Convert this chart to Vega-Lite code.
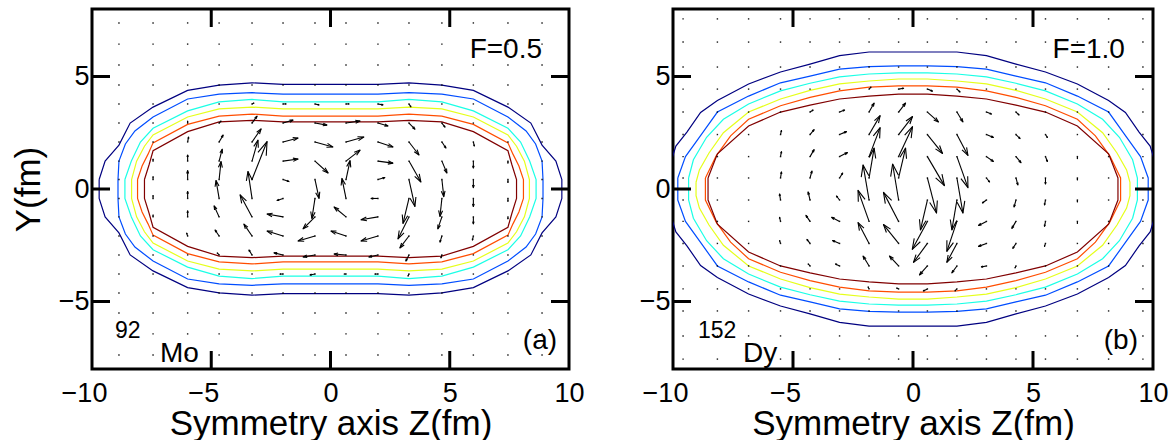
{
"$schema":"https://vega.github.io/schema/vega-lite/v6.json",
"padding":{"left":9,"top":6,"right":5,"bottom":5},
"spacing":51,
"config":{"font":"Liberation Sans","view":{"stroke":"black","strokeWidth":3},
"axis":{"grid":false,"domain":false,"ticks":false,"labelFontSize":27,"labelColor":"black","labelFlush":false,"labelOverlap":false,"titleFontSize":35,"titleFontWeight":"normal","titleColor":"black"}},
"datasets":{
"ticksA":[
{"z":-5,"y":-8,"z2":-5,"y2":-7.2},{"z":0,"y":-8,"z2":0,"y2":-7.2},{"z":5,"y":-8,"z2":5,"y2":-7.2},
{"z":-5,"y":8,"z2":-5,"y2":7.2},{"z":0,"y":8,"z2":0,"y2":7.2},{"z":5,"y":8,"z2":5,"y2":7.2},
{"z":-10,"y":-5,"z2":-9.245,"y2":-5},{"z":-10,"y":0,"z2":-9.245,"y2":0},{"z":-10,"y":5,"z2":-9.245,"y2":5},
{"z":10,"y":-5,"z2":9.245,"y2":-5},{"z":10,"y":0,"z2":9.245,"y2":0},{"z":10,"y":5,"z2":9.245,"y2":5}
],
"ticksB":[
{"z":-5,"y":-8,"z2":-5,"y2":-7.2},{"z":0,"y":-8,"z2":0,"y2":-7.2},{"z":5,"y":-8,"z2":5,"y2":-7.2},
{"z":-5,"y":8,"z2":-5,"y2":7.2},{"z":0,"y":8,"z2":0,"y2":7.2},{"z":5,"y":8,"z2":5,"y2":7.2},
{"z":-10,"y":-5,"z2":-9.25,"y2":-5},{"z":-10,"y":0,"z2":-9.25,"y2":0},{"z":-10,"y":5,"z2":-9.25,"y2":5},
{"z":10,"y":-5,"z2":9.25,"y2":-5},{"z":10,"y":0,"z2":9.25,"y2":0},{"z":10,"y":5,"z2":9.25,"y2":5}
],
"contA":[
{"c":1,"z":-9.7,"y":0.42},{"c":1,"z":-9.45,"y":1.24},{"c":1,"z":-8.87,"y":1.95},{"c":1,"z":-8.4,"y":2.93},{"c":1,"z":-7.44,"y":3.64},{"c":1,"z":-5.99,"y":4.38},{"c":1,"z":-4.67,"y":4.62},{"c":1,"z":-3.29,"y":4.72},{"c":1,"z":-1.99,"y":4.65},{"c":1,"z":-0.65,"y":4.65},{"c":1,"z":0.65,"y":4.65},{"c":1,"z":1.99,"y":4.65},{"c":1,"z":3.29,"y":4.72},{"c":1,"z":4.67,"y":4.62},{"c":1,"z":5.99,"y":4.38},{"c":1,"z":7.44,"y":3.64},{"c":1,"z":8.4,"y":2.93},{"c":1,"z":8.87,"y":1.95},{"c":1,"z":9.45,"y":1.24},{"c":1,"z":9.7,"y":0.42},{"c":1,"z":9.7,"y":-0.42},{"c":1,"z":9.45,"y":-1.24},{"c":1,"z":8.87,"y":-1.95},{"c":1,"z":8.4,"y":-2.93},{"c":1,"z":7.44,"y":-3.64},{"c":1,"z":5.99,"y":-4.38},{"c":1,"z":4.67,"y":-4.62},{"c":1,"z":3.29,"y":-4.72},{"c":1,"z":1.99,"y":-4.65},{"c":1,"z":0.65,"y":-4.65},{"c":1,"z":-0.65,"y":-4.65},{"c":1,"z":-1.99,"y":-4.65},{"c":1,"z":-3.29,"y":-4.72},{"c":1,"z":-4.67,"y":-4.62},{"c":1,"z":-5.99,"y":-4.38},{"c":1,"z":-7.44,"y":-3.64},{"c":1,"z":-8.4,"y":-2.93},{"c":1,"z":-8.87,"y":-1.95},{"c":1,"z":-9.45,"y":-1.24},{"c":1,"z":-9.7,"y":-0.42},{"c":1,"z":-9.7,"y":0.42},
{"c":2,"z":-8.91,"y":0.42},{"c":2,"z":-8.87,"y":1.24},{"c":2,"z":-8.6,"y":2.0},{"c":2,"z":-8.2,"y":2.58},{"c":2,"z":-7.44,"y":3.2},{"c":2,"z":-5.99,"y":4.0},{"c":2,"z":-4.67,"y":4.22},{"c":2,"z":-3.29,"y":4.28},{"c":2,"z":-1.99,"y":4.22},{"c":2,"z":-0.65,"y":4.22},{"c":2,"z":0.65,"y":4.22},{"c":2,"z":1.99,"y":4.22},{"c":2,"z":3.29,"y":4.28},{"c":2,"z":4.67,"y":4.22},{"c":2,"z":5.99,"y":4.0},{"c":2,"z":7.44,"y":3.2},{"c":2,"z":8.2,"y":2.58},{"c":2,"z":8.6,"y":2.0},{"c":2,"z":8.87,"y":1.24},{"c":2,"z":8.91,"y":0.42},{"c":2,"z":8.91,"y":-0.42},{"c":2,"z":8.87,"y":-1.24},{"c":2,"z":8.6,"y":-2.0},{"c":2,"z":8.2,"y":-2.58},{"c":2,"z":7.44,"y":-3.2},{"c":2,"z":5.99,"y":-4.0},{"c":2,"z":4.67,"y":-4.22},{"c":2,"z":3.29,"y":-4.28},{"c":2,"z":1.99,"y":-4.22},{"c":2,"z":0.65,"y":-4.22},{"c":2,"z":-0.65,"y":-4.22},{"c":2,"z":-1.99,"y":-4.22},{"c":2,"z":-3.29,"y":-4.28},{"c":2,"z":-4.67,"y":-4.22},{"c":2,"z":-5.99,"y":-4.0},{"c":2,"z":-7.44,"y":-3.2},{"c":2,"z":-8.2,"y":-2.58},{"c":2,"z":-8.6,"y":-2.0},{"c":2,"z":-8.87,"y":-1.24},{"c":2,"z":-8.91,"y":-0.42},{"c":2,"z":-8.91,"y":0.42},
{"c":3,"z":-8.62,"y":0.42},{"c":3,"z":-8.35,"y":1.24},{"c":3,"z":-7.97,"y":2.09},{"c":3,"z":-7.44,"y":2.7},{"c":3,"z":-5.99,"y":3.47},{"c":3,"z":-4.67,"y":3.87},{"c":3,"z":-3.29,"y":3.98},{"c":3,"z":-1.99,"y":3.87},{"c":3,"z":-0.65,"y":3.87},{"c":3,"z":0.65,"y":3.87},{"c":3,"z":1.99,"y":3.87},{"c":3,"z":3.29,"y":3.98},{"c":3,"z":4.67,"y":3.87},{"c":3,"z":5.99,"y":3.47},{"c":3,"z":7.44,"y":2.7},{"c":3,"z":7.97,"y":2.09},{"c":3,"z":8.35,"y":1.24},{"c":3,"z":8.62,"y":0.42},{"c":3,"z":8.62,"y":-0.42},{"c":3,"z":8.35,"y":-1.24},{"c":3,"z":7.97,"y":-2.09},{"c":3,"z":7.44,"y":-2.7},{"c":3,"z":5.99,"y":-3.47},{"c":3,"z":4.67,"y":-3.87},{"c":3,"z":3.29,"y":-3.98},{"c":3,"z":1.99,"y":-3.87},{"c":3,"z":0.65,"y":-3.87},{"c":3,"z":-0.65,"y":-3.87},{"c":3,"z":-1.99,"y":-3.87},{"c":3,"z":-3.29,"y":-3.98},{"c":3,"z":-4.67,"y":-3.87},{"c":3,"z":-5.99,"y":-3.47},{"c":3,"z":-7.44,"y":-2.7},{"c":3,"z":-7.97,"y":-2.09},{"c":3,"z":-8.35,"y":-1.24},{"c":3,"z":-8.62,"y":-0.42},{"c":3,"z":-8.62,"y":0.42},
{"c":4,"z":-8.34,"y":0.42},{"c":4,"z":-8.13,"y":1.24},{"c":4,"z":-7.8,"y":1.9},{"c":4,"z":-7.44,"y":2.4},{"c":4,"z":-5.99,"y":3.2},{"c":4,"z":-4.67,"y":3.56},{"c":4,"z":-3.29,"y":3.64},{"c":4,"z":-1.99,"y":3.56},{"c":4,"z":-0.65,"y":3.56},{"c":4,"z":0.65,"y":3.56},{"c":4,"z":1.99,"y":3.56},{"c":4,"z":3.29,"y":3.64},{"c":4,"z":4.67,"y":3.56},{"c":4,"z":5.99,"y":3.2},{"c":4,"z":7.44,"y":2.4},{"c":4,"z":7.8,"y":1.9},{"c":4,"z":8.13,"y":1.24},{"c":4,"z":8.34,"y":0.42},{"c":4,"z":8.34,"y":-0.42},{"c":4,"z":8.13,"y":-1.24},{"c":4,"z":7.8,"y":-1.9},{"c":4,"z":7.44,"y":-2.4},{"c":4,"z":5.99,"y":-3.2},{"c":4,"z":4.67,"y":-3.56},{"c":4,"z":3.29,"y":-3.64},{"c":4,"z":1.99,"y":-3.56},{"c":4,"z":0.65,"y":-3.56},{"c":4,"z":-0.65,"y":-3.56},{"c":4,"z":-1.99,"y":-3.56},{"c":4,"z":-3.29,"y":-3.64},{"c":4,"z":-4.67,"y":-3.56},{"c":4,"z":-5.99,"y":-3.2},{"c":4,"z":-7.44,"y":-2.4},{"c":4,"z":-7.8,"y":-1.9},{"c":4,"z":-8.13,"y":-1.24},{"c":4,"z":-8.34,"y":-0.42},{"c":4,"z":-8.34,"y":0.42},
{"c":5,"z":-8.09,"y":0.42},{"c":5,"z":-7.9,"y":1.02},{"c":5,"z":-7.65,"y":1.55},{"c":5,"z":-7.44,"y":2.05},{"c":5,"z":-5.99,"y":2.87},{"c":5,"z":-4.67,"y":3.24},{"c":5,"z":-3.29,"y":3.33},{"c":5,"z":-1.99,"y":3.24},{"c":5,"z":-0.65,"y":3.24},{"c":5,"z":0.65,"y":3.24},{"c":5,"z":1.99,"y":3.24},{"c":5,"z":3.29,"y":3.33},{"c":5,"z":4.67,"y":3.24},{"c":5,"z":5.99,"y":2.87},{"c":5,"z":7.44,"y":2.05},{"c":5,"z":7.65,"y":1.55},{"c":5,"z":7.9,"y":1.02},{"c":5,"z":8.09,"y":0.42},{"c":5,"z":8.09,"y":-0.42},{"c":5,"z":7.9,"y":-1.02},{"c":5,"z":7.65,"y":-1.55},{"c":5,"z":7.44,"y":-2.05},{"c":5,"z":5.99,"y":-2.87},{"c":5,"z":4.67,"y":-3.24},{"c":5,"z":3.29,"y":-3.33},{"c":5,"z":1.99,"y":-3.24},{"c":5,"z":0.65,"y":-3.24},{"c":5,"z":-0.65,"y":-3.24},{"c":5,"z":-1.99,"y":-3.24},{"c":5,"z":-3.29,"y":-3.33},{"c":5,"z":-4.67,"y":-3.24},{"c":5,"z":-5.99,"y":-2.87},{"c":5,"z":-7.44,"y":-2.05},{"c":5,"z":-7.65,"y":-1.55},{"c":5,"z":-7.9,"y":-1.02},{"c":5,"z":-8.09,"y":-0.42},{"c":5,"z":-8.09,"y":0.42},
{"c":6,"z":-7.8,"y":0.42},{"c":6,"z":-7.6,"y":1.1},{"c":6,"z":-7.44,"y":1.7},{"c":6,"z":-5.99,"y":2.55},{"c":6,"z":-4.67,"y":2.98},{"c":6,"z":-3.29,"y":3.05},{"c":6,"z":-1.99,"y":2.98},{"c":6,"z":-0.65,"y":2.98},{"c":6,"z":0.65,"y":2.98},{"c":6,"z":1.99,"y":2.98},{"c":6,"z":3.29,"y":3.05},{"c":6,"z":4.67,"y":2.98},{"c":6,"z":5.99,"y":2.55},{"c":6,"z":7.44,"y":1.7},{"c":6,"z":7.6,"y":1.1},{"c":6,"z":7.8,"y":0.42},{"c":6,"z":7.8,"y":-0.42},{"c":6,"z":7.6,"y":-1.1},{"c":6,"z":7.44,"y":-1.7},{"c":6,"z":5.99,"y":-2.55},{"c":6,"z":4.67,"y":-2.98},{"c":6,"z":3.29,"y":-3.05},{"c":6,"z":1.99,"y":-2.98},{"c":6,"z":0.65,"y":-2.98},{"c":6,"z":-0.65,"y":-2.98},{"c":6,"z":-1.99,"y":-2.98},{"c":6,"z":-3.29,"y":-3.05},{"c":6,"z":-4.67,"y":-2.98},{"c":6,"z":-5.99,"y":-2.55},{"c":6,"z":-7.44,"y":-1.7},{"c":6,"z":-7.6,"y":-1.1},{"c":6,"z":-7.8,"y":-0.42},{"c":6,"z":-7.8,"y":0.42}
],
"contB":[
{"c":1,"z":-10.3,"y":0.49},{"c":1,"z":-9.88,"y":1.91},{"c":1,"z":-9.42,"y":2.53},{"c":1,"z":-8.85,"y":3.4},{"c":1,"z":-8.15,"y":3.93},{"c":1,"z":-6.85,"y":4.67},{"c":1,"z":-5.52,"y":5.2},{"c":1,"z":-4.29,"y":5.55},{"c":1,"z":-3.06,"y":5.93},{"c":1,"z":-1.83,"y":6.09},{"c":1,"z":-0.6,"y":6.09},{"c":1,"z":0.6,"y":6.09},{"c":1,"z":1.83,"y":6.09},{"c":1,"z":3.06,"y":5.93},{"c":1,"z":4.29,"y":5.55},{"c":1,"z":5.52,"y":5.2},{"c":1,"z":6.85,"y":4.67},{"c":1,"z":8.15,"y":3.93},{"c":1,"z":8.85,"y":3.4},{"c":1,"z":9.42,"y":2.53},{"c":1,"z":9.88,"y":1.91},{"c":1,"z":10.3,"y":0.49},{"c":1,"z":10.3,"y":-0.49},{"c":1,"z":9.88,"y":-1.91},{"c":1,"z":9.42,"y":-2.53},{"c":1,"z":8.85,"y":-3.4},{"c":1,"z":8.15,"y":-3.93},{"c":1,"z":6.85,"y":-4.67},{"c":1,"z":5.52,"y":-5.2},{"c":1,"z":4.29,"y":-5.55},{"c":1,"z":3.06,"y":-5.93},{"c":1,"z":1.83,"y":-6.09},{"c":1,"z":0.6,"y":-6.09},{"c":1,"z":-0.6,"y":-6.09},{"c":1,"z":-1.83,"y":-6.09},{"c":1,"z":-3.06,"y":-5.93},{"c":1,"z":-4.29,"y":-5.55},{"c":1,"z":-5.52,"y":-5.2},{"c":1,"z":-6.85,"y":-4.67},{"c":1,"z":-8.15,"y":-3.93},{"c":1,"z":-8.85,"y":-3.4},{"c":1,"z":-9.42,"y":-2.53},{"c":1,"z":-9.88,"y":-1.91},{"c":1,"z":-10.3,"y":-0.49},{"c":1,"z":-10.3,"y":0.49},
{"c":2,"z":-9.8,"y":0.49},{"c":2,"z":-9.48,"y":1.44},{"c":2,"z":-8.8,"y":2.45},{"c":2,"z":-8.15,"y":3.42},{"c":2,"z":-6.85,"y":4.13},{"c":2,"z":-5.52,"y":4.72},{"c":2,"z":-4.29,"y":5.02},{"c":2,"z":-3.06,"y":5.33},{"c":2,"z":-1.83,"y":5.44},{"c":2,"z":-0.6,"y":5.47},{"c":2,"z":0.6,"y":5.47},{"c":2,"z":1.83,"y":5.44},{"c":2,"z":3.06,"y":5.33},{"c":2,"z":4.29,"y":5.02},{"c":2,"z":5.52,"y":4.72},{"c":2,"z":6.85,"y":4.13},{"c":2,"z":8.15,"y":3.42},{"c":2,"z":8.8,"y":2.45},{"c":2,"z":9.48,"y":1.44},{"c":2,"z":9.8,"y":0.49},{"c":2,"z":9.8,"y":-0.49},{"c":2,"z":9.48,"y":-1.44},{"c":2,"z":8.8,"y":-2.45},{"c":2,"z":8.15,"y":-3.42},{"c":2,"z":6.85,"y":-4.13},{"c":2,"z":5.52,"y":-4.72},{"c":2,"z":4.29,"y":-5.02},{"c":2,"z":3.06,"y":-5.33},{"c":2,"z":1.83,"y":-5.44},{"c":2,"z":0.6,"y":-5.47},{"c":2,"z":-0.6,"y":-5.47},{"c":2,"z":-1.83,"y":-5.44},{"c":2,"z":-3.06,"y":-5.33},{"c":2,"z":-4.29,"y":-5.02},{"c":2,"z":-5.52,"y":-4.72},{"c":2,"z":-6.85,"y":-4.13},{"c":2,"z":-8.15,"y":-3.42},{"c":2,"z":-8.8,"y":-2.45},{"c":2,"z":-9.48,"y":-1.44},{"c":2,"z":-9.8,"y":-0.49},{"c":2,"z":-9.8,"y":0.49},
{"c":3,"z":-9.35,"y":0.49},{"c":3,"z":-9.15,"y":1.3},{"c":3,"z":-8.6,"y":2.3},{"c":3,"z":-7.9,"y":3.1},{"c":3,"z":-6.85,"y":3.78},{"c":3,"z":-5.52,"y":4.36},{"c":3,"z":-4.29,"y":4.7},{"c":3,"z":-3.06,"y":4.98},{"c":3,"z":-1.83,"y":5.11},{"c":3,"z":-0.6,"y":5.16},{"c":3,"z":0.6,"y":5.16},{"c":3,"z":1.83,"y":5.11},{"c":3,"z":3.06,"y":4.98},{"c":3,"z":4.29,"y":4.7},{"c":3,"z":5.52,"y":4.36},{"c":3,"z":6.85,"y":3.78},{"c":3,"z":7.9,"y":3.1},{"c":3,"z":8.6,"y":2.3},{"c":3,"z":9.15,"y":1.3},{"c":3,"z":9.35,"y":0.49},{"c":3,"z":9.35,"y":-0.49},{"c":3,"z":9.15,"y":-1.3},{"c":3,"z":8.6,"y":-2.3},{"c":3,"z":7.9,"y":-3.1},{"c":3,"z":6.85,"y":-3.78},{"c":3,"z":5.52,"y":-4.36},{"c":3,"z":4.29,"y":-4.7},{"c":3,"z":3.06,"y":-4.98},{"c":3,"z":1.83,"y":-5.11},{"c":3,"z":0.6,"y":-5.16},{"c":3,"z":-0.6,"y":-5.16},{"c":3,"z":-1.83,"y":-5.11},{"c":3,"z":-3.06,"y":-4.98},{"c":3,"z":-4.29,"y":-4.7},{"c":3,"z":-5.52,"y":-4.36},{"c":3,"z":-6.85,"y":-3.78},{"c":3,"z":-7.9,"y":-3.1},{"c":3,"z":-8.6,"y":-2.3},{"c":3,"z":-9.15,"y":-1.3},{"c":3,"z":-9.35,"y":-0.49},{"c":3,"z":-9.35,"y":0.49},
{"c":4,"z":-9.04,"y":0.3},{"c":4,"z":-8.9,"y":0.85},{"c":4,"z":-8.5,"y":1.6},{"c":4,"z":-7.9,"y":2.5},{"c":4,"z":-6.85,"y":3.42},{"c":4,"z":-5.52,"y":4.0},{"c":4,"z":-4.29,"y":4.38},{"c":4,"z":-3.06,"y":4.67},{"c":4,"z":-1.83,"y":4.8},{"c":4,"z":-0.6,"y":4.89},{"c":4,"z":0.6,"y":4.89},{"c":4,"z":1.83,"y":4.8},{"c":4,"z":3.06,"y":4.67},{"c":4,"z":4.29,"y":4.38},{"c":4,"z":5.52,"y":4.0},{"c":4,"z":6.85,"y":3.42},{"c":4,"z":7.9,"y":2.5},{"c":4,"z":8.5,"y":1.6},{"c":4,"z":8.9,"y":0.85},{"c":4,"z":9.04,"y":0.3},{"c":4,"z":9.04,"y":-0.3},{"c":4,"z":8.9,"y":-0.85},{"c":4,"z":8.5,"y":-1.6},{"c":4,"z":7.9,"y":-2.5},{"c":4,"z":6.85,"y":-3.42},{"c":4,"z":5.52,"y":-4.0},{"c":4,"z":4.29,"y":-4.38},{"c":4,"z":3.06,"y":-4.67},{"c":4,"z":1.83,"y":-4.8},{"c":4,"z":0.6,"y":-4.89},{"c":4,"z":-0.6,"y":-4.89},{"c":4,"z":-1.83,"y":-4.8},{"c":4,"z":-3.06,"y":-4.67},{"c":4,"z":-4.29,"y":-4.38},{"c":4,"z":-5.52,"y":-4.0},{"c":4,"z":-6.85,"y":-3.42},{"c":4,"z":-7.9,"y":-2.5},{"c":4,"z":-8.5,"y":-1.6},{"c":4,"z":-8.9,"y":-0.85},{"c":4,"z":-9.04,"y":-0.3},{"c":4,"z":-9.04,"y":0.3},
{"c":5,"z":-8.65,"y":0.49},{"c":5,"z":-8.2,"y":1.47},{"c":5,"z":-7.6,"y":2.36},{"c":5,"z":-6.85,"y":3.1},{"c":5,"z":-5.52,"y":3.7},{"c":5,"z":-4.29,"y":4.07},{"c":5,"z":-3.06,"y":4.36},{"c":5,"z":-1.83,"y":4.53},{"c":5,"z":-0.6,"y":4.58},{"c":5,"z":0.6,"y":4.58},{"c":5,"z":1.83,"y":4.53},{"c":5,"z":3.06,"y":4.36},{"c":5,"z":4.29,"y":4.07},{"c":5,"z":5.52,"y":3.7},{"c":5,"z":6.85,"y":3.1},{"c":5,"z":7.6,"y":2.36},{"c":5,"z":8.2,"y":1.47},{"c":5,"z":8.65,"y":0.49},{"c":5,"z":8.65,"y":-0.49},{"c":5,"z":8.2,"y":-1.47},{"c":5,"z":7.6,"y":-2.36},{"c":5,"z":6.85,"y":-3.1},{"c":5,"z":5.52,"y":-3.7},{"c":5,"z":4.29,"y":-4.07},{"c":5,"z":3.06,"y":-4.36},{"c":5,"z":1.83,"y":-4.53},{"c":5,"z":0.6,"y":-4.58},{"c":5,"z":-0.6,"y":-4.58},{"c":5,"z":-1.83,"y":-4.53},{"c":5,"z":-3.06,"y":-4.36},{"c":5,"z":-4.29,"y":-4.07},{"c":5,"z":-5.52,"y":-3.7},{"c":5,"z":-6.85,"y":-3.1},{"c":5,"z":-7.6,"y":-2.36},{"c":5,"z":-8.2,"y":-1.47},{"c":5,"z":-8.65,"y":-0.49},{"c":5,"z":-8.65,"y":0.49},
{"c":6,"z":-8.54,"y":0.49},{"c":6,"z":-8.15,"y":1.56},{"c":6,"z":-6.85,"y":2.8},{"c":6,"z":-5.52,"y":3.42},{"c":6,"z":-4.29,"y":3.73},{"c":6,"z":-3.06,"y":4.0},{"c":6,"z":-1.83,"y":4.13},{"c":6,"z":-0.6,"y":4.22},{"c":6,"z":0.6,"y":4.22},{"c":6,"z":1.83,"y":4.13},{"c":6,"z":3.06,"y":4.0},{"c":6,"z":4.29,"y":3.73},{"c":6,"z":5.52,"y":3.42},{"c":6,"z":6.85,"y":2.8},{"c":6,"z":8.15,"y":1.56},{"c":6,"z":8.54,"y":0.49},{"c":6,"z":8.54,"y":-0.49},{"c":6,"z":8.15,"y":-1.56},{"c":6,"z":6.85,"y":-2.8},{"c":6,"z":5.52,"y":-3.42},{"c":6,"z":4.29,"y":-3.73},{"c":6,"z":3.06,"y":-4.0},{"c":6,"z":1.83,"y":-4.13},{"c":6,"z":0.6,"y":-4.22},{"c":6,"z":-0.6,"y":-4.22},{"c":6,"z":-1.83,"y":-4.13},{"c":6,"z":-3.06,"y":-4.0},{"c":6,"z":-4.29,"y":-3.73},{"c":6,"z":-5.52,"y":-3.42},{"c":6,"z":-6.85,"y":-2.8},{"c":6,"z":-8.15,"y":-1.56},{"c":6,"z":-8.54,"y":-0.49},{"c":6,"z":-8.54,"y":0.49}
],
"dotsA":[
{"z":-8.87,"y":7.38},{"z":-8.87,"y":6.44},{"z":-8.87,"y":5.51},{"z":-8.87,"y":4.62},{"z":-8.87,"y":3.78},{"z":-8.87,"y":2.93},{"z":-8.87,"y":2.09},{"z":-8.87,"y":1.24},{"z":-8.87,"y":0.42},{"z":-8.87,"y":-0.42},{"z":-8.87,"y":-1.24},{"z":-8.87,"y":-2.09},{"z":-8.87,"y":-2.93},{"z":-8.87,"y":-3.78},{"z":-8.87,"y":-4.62},{"z":-8.87,"y":-5.51},{"z":-8.87,"y":-6.44},{"z":-8.87,"y":-7.38},
{"z":-7.44,"y":7.38},{"z":-7.44,"y":6.44},{"z":-7.44,"y":5.51},{"z":-7.44,"y":4.62},{"z":-7.44,"y":3.78},{"z":-7.44,"y":2.93},{"z":-7.44,"y":2.09},{"z":-7.44,"y":1.24},{"z":-7.44,"y":0.42},{"z":-7.44,"y":-0.42},{"z":-7.44,"y":-1.24},{"z":-7.44,"y":-2.09},{"z":-7.44,"y":-2.93},{"z":-7.44,"y":-3.78},{"z":-7.44,"y":-4.62},{"z":-7.44,"y":-5.51},{"z":-7.44,"y":-6.44},{"z":-7.44,"y":-7.38},
{"z":-5.99,"y":7.38},{"z":-5.99,"y":6.44},{"z":-5.99,"y":5.51},{"z":-5.99,"y":4.62},{"z":-5.99,"y":3.78},{"z":-5.99,"y":2.93},{"z":-5.99,"y":2.09},{"z":-5.99,"y":1.24},{"z":-5.99,"y":0.42},{"z":-5.99,"y":-0.42},{"z":-5.99,"y":-1.24},{"z":-5.99,"y":-2.09},{"z":-5.99,"y":-2.93},{"z":-5.99,"y":-3.78},{"z":-5.99,"y":-4.62},{"z":-5.99,"y":-5.51},{"z":-5.99,"y":-6.44},{"z":-5.99,"y":-7.38},
{"z":-4.67,"y":7.38},{"z":-4.67,"y":6.44},{"z":-4.67,"y":5.51},{"z":-4.67,"y":4.62},{"z":-4.67,"y":3.78},{"z":-4.67,"y":2.93},{"z":-4.67,"y":2.09},{"z":-4.67,"y":1.24},{"z":-4.67,"y":0.42},{"z":-4.67,"y":-0.42},{"z":-4.67,"y":-1.24},{"z":-4.67,"y":-2.09},{"z":-4.67,"y":-2.93},{"z":-4.67,"y":-3.78},{"z":-4.67,"y":-4.62},{"z":-4.67,"y":-5.51},{"z":-4.67,"y":-6.44},{"z":-4.67,"y":-7.38},
{"z":-3.29,"y":7.38},{"z":-3.29,"y":6.44},{"z":-3.29,"y":5.51},{"z":-3.29,"y":4.62},{"z":-3.29,"y":3.78},{"z":-3.29,"y":2.93},{"z":-3.29,"y":2.09},{"z":-3.29,"y":1.24},{"z":-3.29,"y":0.42},{"z":-3.29,"y":-0.42},{"z":-3.29,"y":-1.24},{"z":-3.29,"y":-2.09},{"z":-3.29,"y":-2.93},{"z":-3.29,"y":-3.78},{"z":-3.29,"y":-4.62},{"z":-3.29,"y":-5.51},{"z":-3.29,"y":-6.44},{"z":-3.29,"y":-7.38},
{"z":-1.99,"y":7.38},{"z":-1.99,"y":6.44},{"z":-1.99,"y":5.51},{"z":-1.99,"y":4.62},{"z":-1.99,"y":3.78},{"z":-1.99,"y":2.93},{"z":-1.99,"y":2.09},{"z":-1.99,"y":1.24},{"z":-1.99,"y":0.42},{"z":-1.99,"y":-0.42},{"z":-1.99,"y":-1.24},{"z":-1.99,"y":-2.09},{"z":-1.99,"y":-2.93},{"z":-1.99,"y":-3.78},{"z":-1.99,"y":-4.62},{"z":-1.99,"y":-5.51},{"z":-1.99,"y":-6.44},{"z":-1.99,"y":-7.38},
{"z":-0.65,"y":7.38},{"z":-0.65,"y":6.44},{"z":-0.65,"y":5.51},{"z":-0.65,"y":4.62},{"z":-0.65,"y":3.78},{"z":-0.65,"y":2.93},{"z":-0.65,"y":2.09},{"z":-0.65,"y":1.24},{"z":-0.65,"y":0.42},{"z":-0.65,"y":-0.42},{"z":-0.65,"y":-1.24},{"z":-0.65,"y":-2.09},{"z":-0.65,"y":-2.93},{"z":-0.65,"y":-3.78},{"z":-0.65,"y":-4.62},{"z":-0.65,"y":-5.51},{"z":-0.65,"y":-6.44},{"z":-0.65,"y":-7.38},
{"z":0.65,"y":7.38},{"z":0.65,"y":6.44},{"z":0.65,"y":5.51},{"z":0.65,"y":4.62},{"z":0.65,"y":3.78},{"z":0.65,"y":2.93},{"z":0.65,"y":2.09},{"z":0.65,"y":1.24},{"z":0.65,"y":0.42},{"z":0.65,"y":-0.42},{"z":0.65,"y":-1.24},{"z":0.65,"y":-2.09},{"z":0.65,"y":-2.93},{"z":0.65,"y":-3.78},{"z":0.65,"y":-4.62},{"z":0.65,"y":-5.51},{"z":0.65,"y":-6.44},{"z":0.65,"y":-7.38},
{"z":1.99,"y":7.38},{"z":1.99,"y":6.44},{"z":1.99,"y":5.51},{"z":1.99,"y":4.62},{"z":1.99,"y":3.78},{"z":1.99,"y":2.93},{"z":1.99,"y":2.09},{"z":1.99,"y":1.24},{"z":1.99,"y":0.42},{"z":1.99,"y":-0.42},{"z":1.99,"y":-1.24},{"z":1.99,"y":-2.09},{"z":1.99,"y":-2.93},{"z":1.99,"y":-3.78},{"z":1.99,"y":-4.62},{"z":1.99,"y":-5.51},{"z":1.99,"y":-6.44},{"z":1.99,"y":-7.38},
{"z":3.29,"y":7.38},{"z":3.29,"y":6.44},{"z":3.29,"y":5.51},{"z":3.29,"y":4.62},{"z":3.29,"y":3.78},{"z":3.29,"y":2.93},{"z":3.29,"y":2.09},{"z":3.29,"y":1.24},{"z":3.29,"y":0.42},{"z":3.29,"y":-0.42},{"z":3.29,"y":-1.24},{"z":3.29,"y":-2.09},{"z":3.29,"y":-2.93},{"z":3.29,"y":-3.78},{"z":3.29,"y":-4.62},{"z":3.29,"y":-5.51},{"z":3.29,"y":-6.44},{"z":3.29,"y":-7.38},
{"z":4.67,"y":7.38},{"z":4.67,"y":6.44},{"z":4.67,"y":5.51},{"z":4.67,"y":4.62},{"z":4.67,"y":3.78},{"z":4.67,"y":2.93},{"z":4.67,"y":2.09},{"z":4.67,"y":1.24},{"z":4.67,"y":0.42},{"z":4.67,"y":-0.42},{"z":4.67,"y":-1.24},{"z":4.67,"y":-2.09},{"z":4.67,"y":-2.93},{"z":4.67,"y":-3.78},{"z":4.67,"y":-4.62},{"z":4.67,"y":-5.51},{"z":4.67,"y":-6.44},{"z":4.67,"y":-7.38},
{"z":5.99,"y":7.38},{"z":5.99,"y":6.44},{"z":5.99,"y":5.51},{"z":5.99,"y":4.62},{"z":5.99,"y":3.78},{"z":5.99,"y":2.93},{"z":5.99,"y":2.09},{"z":5.99,"y":1.24},{"z":5.99,"y":0.42},{"z":5.99,"y":-0.42},{"z":5.99,"y":-1.24},{"z":5.99,"y":-2.09},{"z":5.99,"y":-2.93},{"z":5.99,"y":-3.78},{"z":5.99,"y":-4.62},{"z":5.99,"y":-5.51},{"z":5.99,"y":-6.44},{"z":5.99,"y":-7.38},
{"z":7.44,"y":7.38},{"z":7.44,"y":6.44},{"z":7.44,"y":5.51},{"z":7.44,"y":4.62},{"z":7.44,"y":3.78},{"z":7.44,"y":2.93},{"z":7.44,"y":2.09},{"z":7.44,"y":1.24},{"z":7.44,"y":0.42},{"z":7.44,"y":-0.42},{"z":7.44,"y":-1.24},{"z":7.44,"y":-2.09},{"z":7.44,"y":-2.93},{"z":7.44,"y":-3.78},{"z":7.44,"y":-4.62},{"z":7.44,"y":-5.51},{"z":7.44,"y":-6.44},{"z":7.44,"y":-7.38},
{"z":8.87,"y":7.38},{"z":8.87,"y":6.44},{"z":8.87,"y":5.51},{"z":8.87,"y":4.62},{"z":8.87,"y":3.78},{"z":8.87,"y":2.93},{"z":8.87,"y":2.09},{"z":8.87,"y":1.24},{"z":8.87,"y":0.42},{"z":8.87,"y":-0.42},{"z":8.87,"y":-1.24},{"z":8.87,"y":-2.09},{"z":8.87,"y":-2.93},{"z":8.87,"y":-3.78},{"z":8.87,"y":-4.62},{"z":8.87,"y":-5.51},{"z":8.87,"y":-6.44},{"z":8.87,"y":-7.38}
],
"dotsB":[
{"z":-9.58,"y":7.56},{"z":-9.58,"y":6.53},{"z":-9.58,"y":5.42},{"z":-9.58,"y":4.44},{"z":-9.58,"y":3.42},{"z":-9.58,"y":2.42},{"z":-9.58,"y":1.44},{"z":-9.58,"y":0.49},{"z":-9.58,"y":-0.49},{"z":-9.58,"y":-1.44},{"z":-9.58,"y":-2.42},{"z":-9.58,"y":-3.42},{"z":-9.58,"y":-4.44},{"z":-9.58,"y":-5.42},{"z":-9.58,"y":-6.53},{"z":-9.58,"y":-7.56},
{"z":-8.15,"y":7.56},{"z":-8.15,"y":6.53},{"z":-8.15,"y":5.42},{"z":-8.15,"y":4.44},{"z":-8.15,"y":3.42},{"z":-8.15,"y":2.42},{"z":-8.15,"y":1.44},{"z":-8.15,"y":0.49},{"z":-8.15,"y":-0.49},{"z":-8.15,"y":-1.44},{"z":-8.15,"y":-2.42},{"z":-8.15,"y":-3.42},{"z":-8.15,"y":-4.44},{"z":-8.15,"y":-5.42},{"z":-8.15,"y":-6.53},{"z":-8.15,"y":-7.56},
{"z":-6.85,"y":7.56},{"z":-6.85,"y":6.53},{"z":-6.85,"y":5.42},{"z":-6.85,"y":4.44},{"z":-6.85,"y":3.42},{"z":-6.85,"y":2.42},{"z":-6.85,"y":1.44},{"z":-6.85,"y":0.49},{"z":-6.85,"y":-0.49},{"z":-6.85,"y":-1.44},{"z":-6.85,"y":-2.42},{"z":-6.85,"y":-3.42},{"z":-6.85,"y":-4.44},{"z":-6.85,"y":-5.42},{"z":-6.85,"y":-6.53},{"z":-6.85,"y":-7.56},
{"z":-5.52,"y":7.56},{"z":-5.52,"y":6.53},{"z":-5.52,"y":5.42},{"z":-5.52,"y":4.44},{"z":-5.52,"y":3.42},{"z":-5.52,"y":2.42},{"z":-5.52,"y":1.44},{"z":-5.52,"y":0.49},{"z":-5.52,"y":-0.49},{"z":-5.52,"y":-1.44},{"z":-5.52,"y":-2.42},{"z":-5.52,"y":-3.42},{"z":-5.52,"y":-4.44},{"z":-5.52,"y":-5.42},{"z":-5.52,"y":-6.53},{"z":-5.52,"y":-7.56},
{"z":-4.29,"y":7.56},{"z":-4.29,"y":6.53},{"z":-4.29,"y":5.42},{"z":-4.29,"y":4.44},{"z":-4.29,"y":3.42},{"z":-4.29,"y":2.42},{"z":-4.29,"y":1.44},{"z":-4.29,"y":0.49},{"z":-4.29,"y":-0.49},{"z":-4.29,"y":-1.44},{"z":-4.29,"y":-2.42},{"z":-4.29,"y":-3.42},{"z":-4.29,"y":-4.44},{"z":-4.29,"y":-5.42},{"z":-4.29,"y":-6.53},{"z":-4.29,"y":-7.56},
{"z":-3.06,"y":7.56},{"z":-3.06,"y":6.53},{"z":-3.06,"y":5.42},{"z":-3.06,"y":4.44},{"z":-3.06,"y":3.42},{"z":-3.06,"y":2.42},{"z":-3.06,"y":1.44},{"z":-3.06,"y":0.49},{"z":-3.06,"y":-0.49},{"z":-3.06,"y":-1.44},{"z":-3.06,"y":-2.42},{"z":-3.06,"y":-3.42},{"z":-3.06,"y":-4.44},{"z":-3.06,"y":-5.42},{"z":-3.06,"y":-6.53},{"z":-3.06,"y":-7.56},
{"z":-1.83,"y":7.56},{"z":-1.83,"y":6.53},{"z":-1.83,"y":5.42},{"z":-1.83,"y":4.44},{"z":-1.83,"y":3.42},{"z":-1.83,"y":2.42},{"z":-1.83,"y":1.44},{"z":-1.83,"y":0.49},{"z":-1.83,"y":-0.49},{"z":-1.83,"y":-1.44},{"z":-1.83,"y":-2.42},{"z":-1.83,"y":-3.42},{"z":-1.83,"y":-4.44},{"z":-1.83,"y":-5.42},{"z":-1.83,"y":-6.53},{"z":-1.83,"y":-7.56},
{"z":-0.6,"y":7.56},{"z":-0.6,"y":6.53},{"z":-0.6,"y":5.42},{"z":-0.6,"y":4.44},{"z":-0.6,"y":3.42},{"z":-0.6,"y":2.42},{"z":-0.6,"y":1.44},{"z":-0.6,"y":0.49},{"z":-0.6,"y":-0.49},{"z":-0.6,"y":-1.44},{"z":-0.6,"y":-2.42},{"z":-0.6,"y":-3.42},{"z":-0.6,"y":-4.44},{"z":-0.6,"y":-5.42},{"z":-0.6,"y":-6.53},{"z":-0.6,"y":-7.56},
{"z":0.6,"y":7.56},{"z":0.6,"y":6.53},{"z":0.6,"y":5.42},{"z":0.6,"y":4.44},{"z":0.6,"y":3.42},{"z":0.6,"y":2.42},{"z":0.6,"y":1.44},{"z":0.6,"y":0.49},{"z":0.6,"y":-0.49},{"z":0.6,"y":-1.44},{"z":0.6,"y":-2.42},{"z":0.6,"y":-3.42},{"z":0.6,"y":-4.44},{"z":0.6,"y":-5.42},{"z":0.6,"y":-6.53},{"z":0.6,"y":-7.56},
{"z":1.83,"y":7.56},{"z":1.83,"y":6.53},{"z":1.83,"y":5.42},{"z":1.83,"y":4.44},{"z":1.83,"y":3.42},{"z":1.83,"y":2.42},{"z":1.83,"y":1.44},{"z":1.83,"y":0.49},{"z":1.83,"y":-0.49},{"z":1.83,"y":-1.44},{"z":1.83,"y":-2.42},{"z":1.83,"y":-3.42},{"z":1.83,"y":-4.44},{"z":1.83,"y":-5.42},{"z":1.83,"y":-6.53},{"z":1.83,"y":-7.56},
{"z":3.06,"y":7.56},{"z":3.06,"y":6.53},{"z":3.06,"y":5.42},{"z":3.06,"y":4.44},{"z":3.06,"y":3.42},{"z":3.06,"y":2.42},{"z":3.06,"y":1.44},{"z":3.06,"y":0.49},{"z":3.06,"y":-0.49},{"z":3.06,"y":-1.44},{"z":3.06,"y":-2.42},{"z":3.06,"y":-3.42},{"z":3.06,"y":-4.44},{"z":3.06,"y":-5.42},{"z":3.06,"y":-6.53},{"z":3.06,"y":-7.56},
{"z":4.29,"y":7.56},{"z":4.29,"y":6.53},{"z":4.29,"y":5.42},{"z":4.29,"y":4.44},{"z":4.29,"y":3.42},{"z":4.29,"y":2.42},{"z":4.29,"y":1.44},{"z":4.29,"y":0.49},{"z":4.29,"y":-0.49},{"z":4.29,"y":-1.44},{"z":4.29,"y":-2.42},{"z":4.29,"y":-3.42},{"z":4.29,"y":-4.44},{"z":4.29,"y":-5.42},{"z":4.29,"y":-6.53},{"z":4.29,"y":-7.56},
{"z":5.52,"y":7.56},{"z":5.52,"y":6.53},{"z":5.52,"y":5.42},{"z":5.52,"y":4.44},{"z":5.52,"y":3.42},{"z":5.52,"y":2.42},{"z":5.52,"y":1.44},{"z":5.52,"y":0.49},{"z":5.52,"y":-0.49},{"z":5.52,"y":-1.44},{"z":5.52,"y":-2.42},{"z":5.52,"y":-3.42},{"z":5.52,"y":-4.44},{"z":5.52,"y":-5.42},{"z":5.52,"y":-6.53},{"z":5.52,"y":-7.56},
{"z":6.85,"y":7.56},{"z":6.85,"y":6.53},{"z":6.85,"y":5.42},{"z":6.85,"y":4.44},{"z":6.85,"y":3.42},{"z":6.85,"y":2.42},{"z":6.85,"y":1.44},{"z":6.85,"y":0.49},{"z":6.85,"y":-0.49},{"z":6.85,"y":-1.44},{"z":6.85,"y":-2.42},{"z":6.85,"y":-3.42},{"z":6.85,"y":-4.44},{"z":6.85,"y":-5.42},{"z":6.85,"y":-6.53},{"z":6.85,"y":-7.56},
{"z":8.15,"y":7.56},{"z":8.15,"y":6.53},{"z":8.15,"y":5.42},{"z":8.15,"y":4.44},{"z":8.15,"y":3.42},{"z":8.15,"y":2.42},{"z":8.15,"y":1.44},{"z":8.15,"y":0.49},{"z":8.15,"y":-0.49},{"z":8.15,"y":-1.44},{"z":8.15,"y":-2.42},{"z":8.15,"y":-3.42},{"z":8.15,"y":-4.44},{"z":8.15,"y":-5.42},{"z":8.15,"y":-6.53},{"z":8.15,"y":-7.56},
{"z":9.58,"y":7.56},{"z":9.58,"y":6.53},{"z":9.58,"y":5.42},{"z":9.58,"y":4.44},{"z":9.58,"y":3.42},{"z":9.58,"y":2.42},{"z":9.58,"y":1.44},{"z":9.58,"y":0.49},{"z":9.58,"y":-0.49},{"z":9.58,"y":-1.44},{"z":9.58,"y":-2.42},{"z":9.58,"y":-3.42},{"z":9.58,"y":-4.44},{"z":9.58,"y":-5.42},{"z":9.58,"y":-6.53},{"z":9.58,"y":-7.56}
],
"arrA":[
{"z":-7.44,"y":1.24,"u":0,"v":0.09},{"z":-7.44,"y":0.42,"u":0,"v":0.13},{"z":-7.44,"y":-0.42,"u":0,"v":0.13},{"z":-7.44,"y":-1.24,"u":0,"v":0.09},
{"z":-5.99,"y":2.93,"u":0,"v":0.09},{"z":-5.99,"y":2.09,"u":0.04,"v":0.22},{"z":-5.99,"y":1.24,"u":0,"v":0.27},{"z":-5.99,"y":0.42,"u":0,"v":0.4},{"z":-5.99,"y":-0.42,"u":0,"v":0.31},{"z":-5.99,"y":-1.24,"u":0,"v":0.27},{"z":-5.99,"y":-2.09,"u":-0.04,"v":0.13},
{"z":-4.67,"y":2.93,"u":0.08,"v":0.09},{"z":-4.67,"y":2.09,"u":0.17,"v":0.31},{"z":-4.67,"y":1.24,"u":0.13,"v":0.53},{"z":-4.67,"y":0.42,"u":0.08,"v":0.8},{"z":-4.67,"y":-0.42,"u":-0.13,"v":0.8},{"z":-4.67,"y":-1.24,"u":-0.21,"v":0.49},{"z":-4.67,"y":-2.09,"u":-0.17,"v":0.27},{"z":-4.67,"y":-2.93,"u":-0.08,"v":0.09},
{"z":-3.29,"y":3.78,"u":0.08,"v":0.04},{"z":-3.29,"y":2.93,"u":0.21,"v":0.31},{"z":-3.29,"y":2.09,"u":0.38,"v":0.58},{"z":-3.29,"y":1.24,"u":0.25,"v":0.93},{"z":-3.29,"y":0.42,"u":0.63,"v":1.69},{"z":-3.29,"y":-0.42,"u":-0.17,"v":1.2},{"z":-3.29,"y":-1.24,"u":-0.5,"v":0.98},{"z":-3.29,"y":-2.09,"u":-0.34,"v":0.53},{"z":-3.29,"y":-2.93,"u":-0.13,"v":0.22},
{"z":-1.99,"y":3.78,"u":0.13,"v":0},{"z":-1.99,"y":2.93,"u":0.42,"v":0.13},{"z":-1.99,"y":2.09,"u":0.63,"v":0.18},{"z":-1.99,"y":1.24,"u":0.63,"v":0.09},{"z":-1.99,"y":0.42,"u":0.25,"v":-0.09},{"z":-1.99,"y":-0.42,"u":-0.25,"v":-0.09},{"z":-1.99,"y":-1.24,"u":-0.67,"v":0.13},{"z":-1.99,"y":-2.09,"u":-0.67,"v":0.22},{"z":-1.99,"y":-2.93,"u":-0.38,"v":0.09},{"z":-1.99,"y":-3.78,"u":-0.13,"v":0},
{"z":-0.65,"y":3.78,"u":0.17,"v":-0.04},{"z":-0.65,"y":2.93,"u":0.5,"v":-0.09},{"z":-0.65,"y":2.09,"u":0.75,"v":-0.22},{"z":-0.65,"y":1.24,"u":0.55,"v":-0.53},{"z":-0.65,"y":0.42,"u":0.17,"v":-0.84},{"z":-0.65,"y":-0.42,"u":-0.13,"v":-0.89},{"z":-0.65,"y":-1.24,"u":-0.5,"v":-0.53},{"z":-0.65,"y":-2.09,"u":-0.71,"v":-0.22},{"z":-0.65,"y":-2.93,"u":-0.5,"v":-0.09},{"z":-0.65,"y":-3.78,"u":-0.21,"v":-0.04},
{"z":0.65,"y":3.78,"u":0.13,"v":0},{"z":0.65,"y":2.93,"u":0.59,"v":0.09},{"z":0.65,"y":2.09,"u":0.75,"v":0.22},{"z":0.65,"y":1.24,"u":0.59,"v":0.49},{"z":0.65,"y":0.42,"u":0.17,"v":0.84},{"z":0.65,"y":-0.42,"u":-0.17,"v":0.89},{"z":0.65,"y":-1.24,"u":-0.5,"v":0.44},{"z":0.65,"y":-2.09,"u":-0.63,"v":0.22},{"z":0.65,"y":-2.93,"u":-0.5,"v":0.04},{"z":0.65,"y":-3.78,"u":-0.08,"v":0},
{"z":1.99,"y":3.78,"u":0.21,"v":-0.04},{"z":1.99,"y":2.93,"u":0.42,"v":-0.13},{"z":1.99,"y":2.09,"u":0.63,"v":-0.22},{"z":1.99,"y":1.24,"u":0.63,"v":-0.09},{"z":1.99,"y":0.42,"u":0.29,"v":0.09},{"z":1.99,"y":-0.42,"u":-0.29,"v":0},{"z":1.99,"y":-1.24,"u":-0.71,"v":-0.13},{"z":1.99,"y":-2.09,"u":-0.71,"v":-0.22},{"z":1.99,"y":-2.93,"u":-0.38,"v":-0.09},{"z":1.99,"y":-3.78,"u":-0.13,"v":0},
{"z":3.29,"y":3.78,"u":0.08,"v":-0.13},{"z":3.29,"y":2.93,"u":0.25,"v":-0.27},{"z":3.29,"y":2.09,"u":0.42,"v":-0.58},{"z":3.29,"y":1.24,"u":0.5,"v":-0.93},{"z":3.29,"y":0.42,"u":0.25,"v":-1.2},{"z":3.29,"y":-0.42,"u":-0.25,"v":-1.11},{"z":3.29,"y":-1.24,"u":-0.46,"v":-0.98},{"z":3.29,"y":-2.09,"u":-0.38,"v":-0.53},{"z":3.29,"y":-2.93,"u":-0.13,"v":-0.27},{"z":3.29,"y":-3.78,"u":-0.04,"v":-0.09},
{"z":4.67,"y":2.93,"u":0.13,"v":-0.18},{"z":4.67,"y":2.09,"u":0.17,"v":-0.27},{"z":4.67,"y":1.24,"u":0.21,"v":-0.53},{"z":4.67,"y":0.42,"u":0.08,"v":-0.76},{"z":4.67,"y":-0.42,"u":-0.08,"v":-0.8},{"z":4.67,"y":-1.24,"u":-0.17,"v":-0.53},{"z":4.67,"y":-2.09,"u":-0.08,"v":-0.27},{"z":4.67,"y":-2.93,"u":-0.04,"v":-0.13},
{"z":5.99,"y":2.09,"u":0.04,"v":-0.18},{"z":5.99,"y":1.24,"u":0,"v":-0.31},{"z":5.99,"y":0.42,"u":0,"v":-0.36},{"z":5.99,"y":-0.42,"u":0,"v":-0.36},{"z":5.99,"y":-1.24,"u":0,"v":-0.31},{"z":5.99,"y":-2.09,"u":-0.04,"v":-0.18},
{"z":7.44,"y":1.24,"u":0,"v":-0.09},{"z":7.44,"y":0.42,"u":0,"v":-0.13},{"z":7.44,"y":-0.42,"u":0,"v":-0.13},{"z":7.44,"y":-1.24,"u":0,"v":-0.09}
],
"arrB":[
{"z":-5.52,"y":2.42,"u":0.04,"v":0.18},{"z":-5.52,"y":1.44,"u":0.04,"v":0.22},{"z":-5.52,"y":0.49,"u":0.04,"v":0.27},{"z":-5.52,"y":-0.49,"u":-0.04,"v":0.27},{"z":-5.52,"y":-1.44,"u":-0.04,"v":0.18},{"z":-5.52,"y":-2.42,"u":-0.04,"v":0.13},
{"z":-4.29,"y":3.42,"u":0.13,"v":0.09},{"z":-4.29,"y":2.42,"u":0.17,"v":0.22},{"z":-4.29,"y":1.44,"u":0.17,"v":0.31},{"z":-4.29,"y":0.49,"u":0.08,"v":0.31},{"z":-4.29,"y":-0.49,"u":-0.08,"v":0.36},{"z":-4.29,"y":-1.44,"u":-0.17,"v":0.27},{"z":-4.29,"y":-2.42,"u":-0.13,"v":0.18},{"z":-4.29,"y":-3.42,"u":-0.08,"v":0.09},
{"z":-3.06,"y":3.42,"u":0.21,"v":0.09},{"z":-3.06,"y":2.42,"u":0.29,"v":0.13},{"z":-3.06,"y":1.44,"u":0.33,"v":0.18},{"z":-3.06,"y":0.49,"u":0.13,"v":0.22},{"z":-3.06,"y":-0.49,"u":-0.13,"v":0.18},{"z":-3.06,"y":-1.44,"u":-0.33,"v":0.18},{"z":-3.06,"y":-2.42,"u":-0.29,"v":0.13},{"z":-3.06,"y":-3.42,"u":-0.17,"v":0.09},
{"z":-1.83,"y":4.44,"u":0.08,"v":0.09},{"z":-1.83,"y":3.42,"u":0.21,"v":0.4},{"z":-1.83,"y":2.42,"u":0.46,"v":0.84},{"z":-1.83,"y":1.44,"u":0.46,"v":1.29},{"z":-1.83,"y":0.49,"u":0.21,"v":1.33},{"z":-1.83,"y":-0.49,"u":-0.25,"v":1.56},{"z":-1.83,"y":-1.44,"u":-0.46,"v":1.38},{"z":-1.83,"y":-2.42,"u":-0.46,"v":0.93},{"z":-1.83,"y":-3.42,"u":-0.25,"v":0.44},{"z":-1.83,"y":-4.44,"u":-0.04,"v":0.09},
{"z":-0.6,"y":4.44,"u":0.21,"v":0.04},{"z":-0.6,"y":3.42,"u":0.29,"v":0.4},{"z":-0.6,"y":2.42,"u":0.58,"v":0.8},{"z":-0.6,"y":1.44,"u":0.58,"v":1.33},{"z":-0.6,"y":0.49,"u":0.29,"v":1.33},{"z":-0.6,"y":-0.49,"u":-0.25,"v":1.6},{"z":-0.6,"y":-1.44,"u":-0.63,"v":1.29},{"z":-0.6,"y":-2.42,"u":-0.63,"v":0.84},{"z":-0.6,"y":-3.42,"u":-0.38,"v":0.44},{"z":-0.6,"y":-4.44,"u":-0.08,"v":0.04},
{"z":0.6,"y":4.44,"u":0.21,"v":-0.09},{"z":0.6,"y":3.42,"u":0.46,"v":-0.44},{"z":0.6,"y":2.42,"u":0.63,"v":-0.84},{"z":0.6,"y":1.44,"u":0.71,"v":-1.29},{"z":0.6,"y":0.49,"u":0.38,"v":-1.56},{"z":0.6,"y":-0.49,"u":-0.29,"v":-1.33},{"z":0.6,"y":-1.44,"u":-0.63,"v":-1.24},{"z":0.6,"y":-2.42,"u":-0.58,"v":-0.84},{"z":0.6,"y":-3.42,"u":-0.33,"v":-0.4},{"z":0.6,"y":-4.44,"u":-0.17,"v":-0.09},
{"z":1.83,"y":4.44,"u":0.13,"v":-0.13},{"z":1.83,"y":3.42,"u":0.25,"v":-0.44},{"z":1.83,"y":2.42,"u":0.46,"v":-0.93},{"z":1.83,"y":1.44,"u":0.46,"v":-1.38},{"z":1.83,"y":0.49,"u":0.25,"v":-1.56},{"z":1.83,"y":-0.49,"u":-0.21,"v":-1.33},{"z":1.83,"y":-1.44,"u":-0.42,"v":-1.33},{"z":1.83,"y":-2.42,"u":-0.42,"v":-0.84},{"z":1.83,"y":-3.42,"u":-0.21,"v":-0.31},{"z":1.83,"y":-4.44,"u":-0.08,"v":-0.09},
{"z":3.06,"y":3.42,"u":0.21,"v":-0.09},{"z":3.06,"y":2.42,"u":0.29,"v":-0.13},{"z":3.06,"y":1.44,"u":0.29,"v":-0.22},{"z":3.06,"y":0.49,"u":0.13,"v":-0.18},{"z":3.06,"y":-0.49,"u":-0.17,"v":-0.13},{"z":3.06,"y":-1.44,"u":-0.33,"v":-0.18},{"z":3.06,"y":-2.42,"u":-0.33,"v":-0.13},{"z":3.06,"y":-3.42,"u":-0.21,"v":-0.04},
{"z":4.29,"y":3.42,"u":0.13,"v":-0.13},{"z":4.29,"y":2.42,"u":0.17,"v":-0.18},{"z":4.29,"y":1.44,"u":0.21,"v":-0.27},{"z":4.29,"y":0.49,"u":0.08,"v":-0.31},{"z":4.29,"y":-0.49,"u":-0.08,"v":-0.31},{"z":4.29,"y":-1.44,"u":-0.17,"v":-0.31},{"z":4.29,"y":-2.42,"u":-0.13,"v":-0.22},{"z":4.29,"y":-3.42,"u":-0.04,"v":-0.09},
{"z":5.52,"y":2.42,"u":0.08,"v":-0.13},{"z":5.52,"y":1.44,"u":0.08,"v":-0.22},{"z":5.52,"y":0.49,"u":0,"v":-0.27},{"z":5.52,"y":-0.49,"u":-0.04,"v":-0.22},{"z":5.52,"y":-1.44,"u":-0.04,"v":-0.22},{"z":5.52,"y":-2.42,"u":-0.04,"v":-0.13},
{"z":6.85,"y":1.44,"u":0,"v":-0.09},{"z":6.85,"y":0.49,"u":0,"v":-0.09},{"z":6.85,"y":-0.49,"u":0,"v":-0.09},{"z":6.85,"y":-1.44,"u":0,"v":-0.09}
]
},
"hconcat":[
{"width":477,"height":360,
"resolve":{"axis":{"x":"independent","y":"independent"}},
"layer":[
{"data":{"name":"contA"},"mark":{"type":"line","strokeWidth":1.2,"clip":true},
"encoding":{
"x":{"field":"z","type":"quantitative","scale":{"domain":[-10,10],"nice":false,"zero":false},"axis":{"orient":"bottom","values":[-10,-5,0,5,10],"title":"Symmetry axis Z(fm)","labelPadding":11,"titlePadding":0,"labelOffset":{"condition":{"test":"datum.value < 0","value":-8},"value":0}}},
"y":{"field":"y","type":"quantitative","scale":{"domain":[-8,8],"nice":false,"zero":false},"axis":{"orient":"left","values":[-5,0,5],"title":"Y(fm)","labelPadding":3,"titlePadding":12}},
"color":{"field":"c","type":"nominal","scale":{"domain":[1,2,3,4,5,6],"range":["#000080","#004DFF","#1AFFE6","#E6FF1A","#FF4D00","#800000"]},"legend":null},
"order":{"value":null}}},
{"data":{"name":"ticksA"},"mark":{"type":"rule","color":"black","strokeWidth":3,"strokeCap":"butt"},
"encoding":{"x":{"field":"z","type":"quantitative","axis":null},"y":{"field":"y","type":"quantitative","axis":null},"x2":{"field":"z2"},"y2":{"field":"y2"}}},
{"data":{"name":"dotsA"},"mark":{"type":"point","shape":"square","filled":true,"size":2,"color":"black","opacity":0.9},
"encoding":{"x":{"field":"z","type":"quantitative","axis":null},"y":{"field":"y","type":"quantitative","axis":null}}},
{"data":{"name":"arrA"},
"transform":[{"calculate":"datum.z + datum.u","as":"z2"},{"calculate":"datum.y + datum.v","as":"y2"}],
"mark":{"type":"rule","color":"black","strokeWidth":1.1},
"encoding":{"x":{"field":"z","type":"quantitative","axis":null},"y":{"field":"y","type":"quantitative","axis":null},"x2":{"field":"z2"},"y2":{"field":"y2"}}},
{"data":{"name":"arrA"},
"transform":[{"calculate":"datum.z + datum.u","as":"z2"},{"calculate":"datum.y + datum.v","as":"y2"},{"calculate":"datum.u * 23.85","as":"px"},{"calculate":"-datum.v * 22.5","as":"py"},{"calculate":"atan2(datum.py, datum.px) * 180 / PI","as":"ang"},{"calculate":"0.4356 * (datum.px * datum.px + datum.py * datum.py)","as":"sz"}],
"mark":{"type":"point","shape":"M-1,-0.33L0,0L-1,0.33","filled":false,"stroke":"black","strokeWidth":1.1,"strokeJoin":"round","opacity":1},
"encoding":{"x":{"field":"z2","type":"quantitative","axis":null},"y":{"field":"y2","type":"quantitative","axis":null},"angle":{"field":"ang","type":"quantitative","scale":null},"size":{"field":"sz","type":"quantitative","scale":null}}},
{"data":{"values":[{}]},"mark":{"type":"text","text":"F=0.5","align":"right","baseline":"alphabetic","fontSize":28,"color":"black"},"encoding":{"x":{"datum":8.87,"type":"quantitative","axis":null},"y":{"datum":5.82,"type":"quantitative","axis":null}}},
{"data":{"values":[{}]},"mark":{"type":"text","text":"(a)","align":"right","baseline":"alphabetic","fontSize":28,"color":"black"},"encoding":{"x":{"datum":9.5,"type":"quantitative","axis":null},"y":{"datum":-7.11,"type":"quantitative","axis":null}}},
{"data":{"values":[{}]},"mark":{"type":"text","text":"92","align":"left","baseline":"alphabetic","fontSize":23,"color":"black"},"encoding":{"x":{"datum":-9.04,"type":"quantitative","axis":null},"y":{"datum":-6.62,"type":"quantitative","axis":null}}},
{"data":{"values":[{}]},"mark":{"type":"text","text":"Mo","align":"left","baseline":"alphabetic","fontSize":28,"color":"black"},"encoding":{"x":{"datum":-7.15,"type":"quantitative","axis":null},"y":{"datum":-7.69,"type":"quantitative","axis":null}}}
]},
{"width":480,"height":360,
"resolve":{"axis":{"x":"independent","y":"independent"}},
"layer":[
{"data":{"name":"contB"},"mark":{"type":"line","strokeWidth":1.2,"clip":true},
"encoding":{
"x":{"field":"z","type":"quantitative","scale":{"domain":[-10,10],"nice":false,"zero":false},"axis":{"orient":"bottom","values":[-10,-5,0,5,10],"title":"Symmetry axis Z(fm)","labelPadding":11,"titlePadding":0,"labelOffset":{"condition":{"test":"datum.value < 0","value":-8},"value":0}}},
"y":{"field":"y","type":"quantitative","scale":{"domain":[-8,8],"nice":false,"zero":false},"axis":{"orient":"left","values":[-5,0,5],"title":null,"labelPadding":3}},
"color":{"field":"c","type":"nominal","scale":{"domain":[1,2,3,4,5,6],"range":["#000080","#004DFF","#1AFFE6","#E6FF1A","#FF4D00","#800000"]},"legend":null},
"order":{"value":null}}},
{"data":{"name":"ticksB"},"mark":{"type":"rule","color":"black","strokeWidth":3,"strokeCap":"butt"},
"encoding":{"x":{"field":"z","type":"quantitative","axis":null},"y":{"field":"y","type":"quantitative","axis":null},"x2":{"field":"z2"},"y2":{"field":"y2"}}},
{"data":{"name":"dotsB"},"mark":{"type":"point","shape":"square","filled":true,"size":2,"color":"black","opacity":0.9},
"encoding":{"x":{"field":"z","type":"quantitative","axis":null},"y":{"field":"y","type":"quantitative","axis":null}}},
{"data":{"name":"arrB"},
"transform":[{"calculate":"datum.z + datum.u","as":"z2"},{"calculate":"datum.y + datum.v","as":"y2"}],
"mark":{"type":"rule","color":"black","strokeWidth":1.1},
"encoding":{"x":{"field":"z","type":"quantitative","axis":null},"y":{"field":"y","type":"quantitative","axis":null},"x2":{"field":"z2"},"y2":{"field":"y2"}}},
{"data":{"name":"arrB"},
"transform":[{"calculate":"datum.z + datum.u","as":"z2"},{"calculate":"datum.y + datum.v","as":"y2"},{"calculate":"datum.u * 24","as":"px"},{"calculate":"-datum.v * 22.5","as":"py"},{"calculate":"atan2(datum.py, datum.px) * 180 / PI","as":"ang"},{"calculate":"0.4356 * (datum.px * datum.px + datum.py * datum.py)","as":"sz"}],
"mark":{"type":"point","shape":"M-1,-0.33L0,0L-1,0.33","filled":false,"stroke":"black","strokeWidth":1.1,"strokeJoin":"round","opacity":1},
"encoding":{"x":{"field":"z2","type":"quantitative","axis":null},"y":{"field":"y2","type":"quantitative","axis":null},"angle":{"field":"ang","type":"quantitative","scale":null},"size":{"field":"sz","type":"quantitative","scale":null}}},
{"data":{"values":[{}]},"mark":{"type":"text","text":"F=1.0","align":"right","baseline":"alphabetic","fontSize":28,"color":"black"},"encoding":{"x":{"datum":8.83,"type":"quantitative","axis":null},"y":{"datum":5.82,"type":"quantitative","axis":null}}},
{"data":{"values":[{}]},"mark":{"type":"text","text":"(b)","align":"right","baseline":"alphabetic","fontSize":28,"color":"black"},"encoding":{"x":{"datum":9.375,"type":"quantitative","axis":null},"y":{"datum":-7.11,"type":"quantitative","axis":null}}},
{"data":{"values":[{}]},"mark":{"type":"text","text":"152","align":"left","baseline":"alphabetic","fontSize":23,"color":"black"},"encoding":{"x":{"datum":-8.96,"type":"quantitative","axis":null},"y":{"datum":-6.62,"type":"quantitative","axis":null}}},
{"data":{"values":[{}]},"mark":{"type":"text","text":"Dy","align":"left","baseline":"alphabetic","fontSize":28,"color":"black"},"encoding":{"x":{"datum":-7.08,"type":"quantitative","axis":null},"y":{"datum":-7.69,"type":"quantitative","axis":null}}}
]}
]
}
